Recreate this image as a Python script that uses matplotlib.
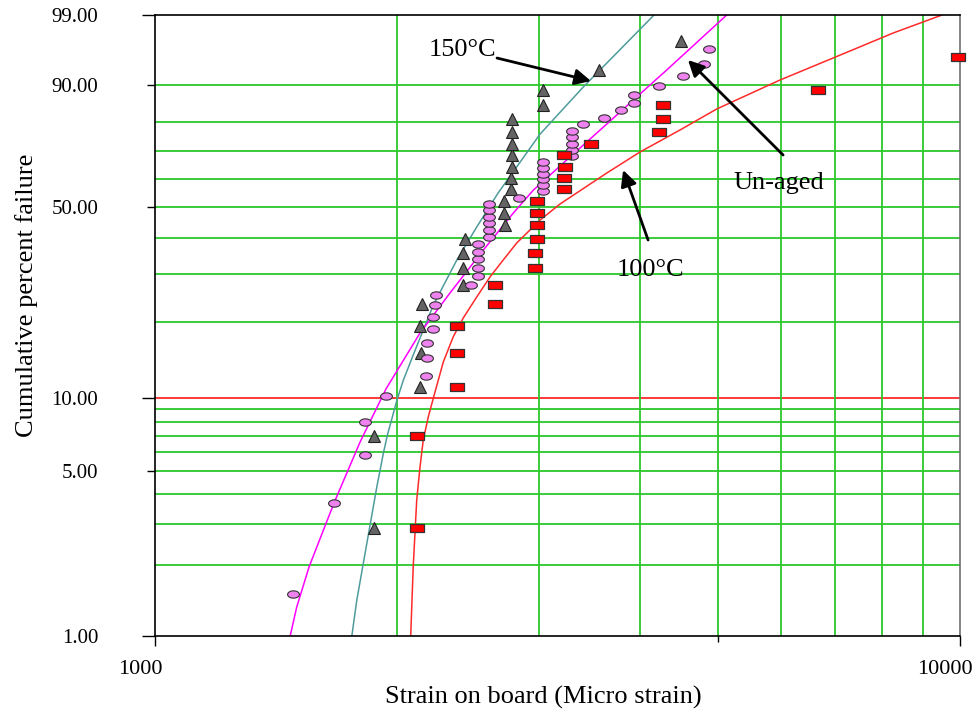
import numpy as np
import matplotlib
matplotlib.use('Agg')
from matplotlib import pyplot as plt
from matplotlib.path import Path
from matplotlib.ticker import NullLocator
from matplotlib.transforms import ScaledTranslation

plt.rcParams['font.family'] = ['Liberation Serif', 'DejaVu Serif']

# 150°C 老化 (三角)
aged150_strain = [1871, 1871, 2135, 2140, 2135, 2146, 2413, 2413, 2413, 2427, 2722, 2714,
                  2714, 2769, 2769, 2777, 2777, 2777, 2777, 2777, 3034, 3034, 3561, 4501]
aged150_pct = [2.87, 6.97, 11.07, 15.16, 19.26, 23.36, 27.46, 31.56, 35.66, 39.75, 43.85, 47.95,
               52.05, 56.15, 60.25, 64.34, 68.44, 72.54, 76.64, 80.74, 84.84, 88.93, 93.03, 97.13]

# 未老化 (椭圆)
unaged_strain = [1483, 1669, 1822, 1822, 1936, 2171, 2175, 2175, 2215, 2215, 2226, 2234, 2467,
                 2519, 2519, 2519, 2519, 2519, 2599, 2599, 2599, 2599, 2599, 2599, 2833,
                 3034, 3034, 3034, 3034, 3034, 3034, 3296, 3296, 3296, 3296, 3296,
                 3401, 3613, 3793, 3936, 3936, 4228, 4528, 4808, 4878]
unaged_pct = [1.51, 3.66, 5.82, 7.97, 10.13, 12.28, 14.44, 16.59, 18.75, 20.91, 23.06, 25.22, 27.37,
              29.53, 31.68, 33.84, 35.99, 38.15, 40.30, 42.46, 44.61, 46.77, 48.92, 51.08, 53.23,
              55.39, 57.54, 59.70, 61.85, 64.01, 66.16, 68.32, 70.47, 72.63, 74.78, 76.94,
              79.09, 81.25, 83.41, 85.56, 87.72, 89.87, 92.03, 94.18, 96.34]

# 100°C 老化 (方块)
aged100_strain = [2116, 2116, 2372, 2372, 2372, 2644, 2644, 2965, 2965, 2982, 2982, 2982,
                  2982, 3222, 3222, 3231, 3222, 3480, 4228, 4277, 4277, 6663, 9943]
aged100_pct = [2.87, 6.97, 11.07, 15.16, 19.26, 23.36, 27.46, 31.56, 35.66, 39.75, 43.85, 47.95,
               52.05, 56.15, 60.25, 64.34, 68.44, 72.54, 76.64, 80.74, 84.84, 88.93, 95.2]

# 拟合曲线
fit150_strain = [1756, 1781, 1886, 1922, 1944, 1998, 2035, 2093, 2217, 2371, 2510, 2668, 3009, 3404, 4168]
fit150_pct = [1.0, 1.42, 4.28, 5.93, 7.04, 9.80, 11.81, 14.85, 23.15, 33.67, 43.36, 54.84, 75.91, 89.59, 99.0]
fitun_strain = [1472, 1500, 1554, 1619, 1669, 1798, 1936, 2134, 2325, 2558, 2787, 2952, 3309,
                3641, 4004, 4322, 5131]
fitun_pct = [1.0, 1.33, 1.97, 2.82, 3.67, 6.59, 10.86, 18.11, 25.65, 36.44, 47.94, 55.91, 68.91,
             79.21, 87.90, 93.12, 99.0]
fit100_strain = [2078, 2093, 2114, 2134, 2154, 2185, 2217, 2281, 2346, 2415, 2510, 2607, 2683,
                 2814, 3009, 3185, 3641, 4004, 4489, 4986, 5976, 6955, 8257, 9498]
fit100_pct = [1.0, 1.97, 3.77, 5.18, 6.72, 8.35, 9.98, 13.93, 17.47, 20.68, 24.80, 29.33, 32.60,
              38.46, 45.62, 51.00, 62.04, 69.63, 77.25, 83.82, 91.15, 95.08, 97.88, 99.0]

ytick_vals = [1, 5, 10, 50, 90, 99]
ygrid_vals = [2, 3, 4, 5, 6, 7, 8, 9, 20, 30, 40, 50, 60, 70, 80, 90]
xgrid_vals = [2000, 3000, 4000, 5000, 6000, 7000, 8000, 9000]
xtick_vals = [1000, 5000, 10000]
xtick_labels = ['1000', '', '10000']

GREEN = '#2bc82b'
RED = '#ff2a2a'


def weibull(p):
    p = np.clip(np.asarray(p, dtype=float), 1e-6, 100 - 1e-6)
    return np.log(-np.log(1 - p / 100.0))


def weibull_inv(y):
    return 100.0 * (1 - np.exp(-np.exp(np.asarray(y, dtype=float))))


fig = plt.figure(figsize=(9.76, 7.13), dpi=100)
ax = fig.add_axes([155 / 976, 1 - 636 / 713, 805 / 976, 621 / 713])
ax.set_xscale('log')
ax.set_yscale('function', functions=(weibull, weibull_inv))
ax.set_xlim(1000, 10000)
ax.set_ylim(1, 99)

# 网格
for v in ygrid_vals:
    ax.axhline(v, color=GREEN, lw=1.3, zorder=1)
ax.axhline(10, color=RED, lw=1.3, zorder=1)
for v in xgrid_vals:
    ax.axvline(v, color=GREEN, lw=1.3, zorder=1)

# 拟合曲线
ax.plot(fit150_strain, fit150_pct, color='#4f9b9b', lw=1.1, zorder=2)
ax.plot(fitun_strain, fitun_pct, color='#ff00ff', lw=1.1, zorder=2)
ax.plot(fit100_strain, fit100_pct, color='#ff2a2a', lw=1.1, zorder=2)

# 数据点
t = np.linspace(0, 2 * np.pi, 40)
ellipse = Path(np.column_stack([np.cos(t), 0.62 * np.sin(t)]), closed=True)
rect = Path([(-1, -0.62), (1, -0.62), (1, 0.62), (-1, 0.62), (-1, -0.62)], closed=True)

ax.plot(aged150_strain, aged150_pct, ls='none', marker='^', ms=9, mfc='#646464', mec='#222222',
        mew=0.8, zorder=3, clip_on=False)
ax.plot(unaged_strain, unaged_pct, ls='none', marker=ellipse, ms=8.5, mfc='#ee82ee', mec='#333333',
        mew=0.8, zorder=3, clip_on=False)
ax.plot(aged100_strain, aged100_pct, ls='none', marker=rect, ms=9.5, mfc='#ff0000', mec='#333333',
        mew=0.9, zorder=3, clip_on=False)

# 坐标轴
ax.set_yticks(ytick_vals)
ax.set_yticklabels([f'{v:.2f}' for v in ytick_vals])
ax.set_xticks(xtick_vals)
ax.set_xticklabels(xtick_labels)
ax.xaxis.set_minor_locator(NullLocator())
ax.yaxis.set_minor_locator(NullLocator())
ax.tick_params(axis='y', length=9.4, width=1.0, pad=31.5, labelsize=15, colors='black')
ax.tick_params(axis='x', length=7, width=1.0, pad=10, labelsize=16)

for tick, col, ln in zip(ax.yaxis.get_major_ticks(), ['black', GREEN, RED, GREEN, GREEN, 'black'],
                         [9.4, 6, 9.4, 6, 6, 9.4]):
    tick.tick1line.set_color(col)
    tick.tick1line.set_markersize(ln)
for tick, col, ln in zip(ax.xaxis.get_major_ticks(), ['black', GREEN, 'black'], [7, 4, 7]):
    tick.tick1line.set_color(col)
    tick.tick1line.set_markersize(ln)

shift = ScaledTranslation(-15 / 100, 0, fig.dpi_scale_trans)
for lab in ax.get_xticklabels():
    lab.set_transform(lab.get_transform() + shift)

for side in ['left', 'bottom', 'top']:
    ax.spines[side].set_color('black')
    ax.spines[side].set_linewidth(1.2)
ax.spines['right'].set_color('#707070')
ax.spines['right'].set_linewidth(1.2)

fig.text(27 / 976, 1 - 295 / 713, 'Cumulative percent failure', rotation=90,
         ha='center', va='center', fontsize=19)
fig.text(543 / 976, 1 - 697 / 713, 'Strain on board (Micro strain)',
         ha='center', va='center', fontsize=19)

# 标注
arrow = dict(arrowstyle='-|>', color='black', lw=2, mutation_scale=24, shrinkA=0, shrinkB=0)
ax.annotate('', xy=(3480, 90.94), xytext=(2660, 95.08), arrowprops=arrow)
ax.annotate('', xy=(4593, 94.78), xytext=(6029, 68.55), arrowprops=arrow)
ax.annotate('', xy=(3815, 63.12), xytext=(4098, 39.35), arrowprops=arrow)
ax.text(2407, 96.16, '150°C', fontsize=19, ha='center', va='center')
ax.text(5961, 58.42, 'Un-aged', fontsize=19, ha='center', va='center')
ax.text(4121, 31.06, '100°C', fontsize=19, ha='center', va='center')

plt.savefig('out.png', dpi=100, facecolor='white')
